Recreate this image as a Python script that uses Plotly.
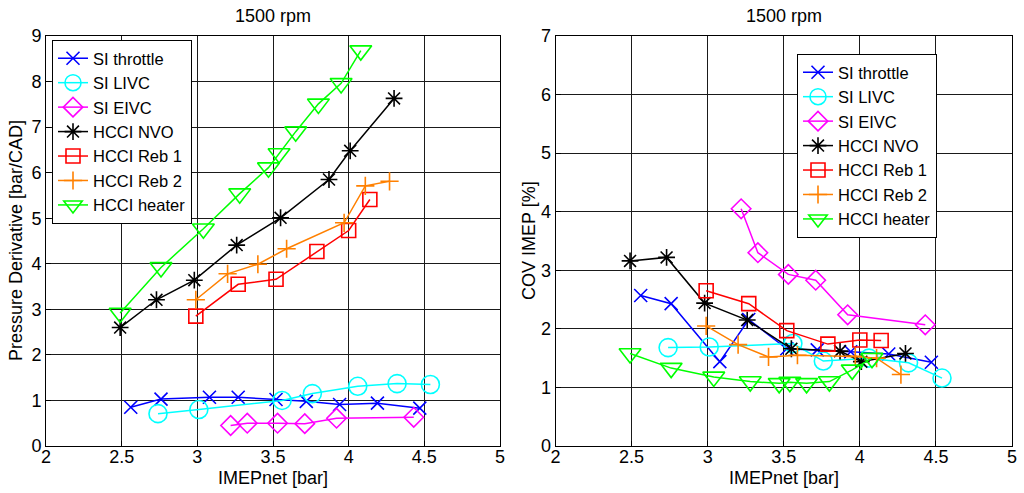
import plotly.graph_objects as go

# ---------------- data ----------------
names = ["SI throttle", "SI LIVC", "SI EIVC", "HCCI NVO", "HCCI Reb 1", "HCCI Reb 2", "HCCI heater"]

# IMEPnet [bar]
x_throttle = [2.56, 2.76, 3.08, 3.27, 3.52, 3.72, 3.94, 4.19, 4.47]
x_livc = [2.74, 3.01, 3.56, 3.76, 4.06, 4.32, 4.54]
x_eivc = [3.22, 3.33, 3.53, 3.71, 3.92, 4.43]
x_nvo = [2.49, 2.73, 2.98, 3.26, 3.55, 3.87, 4.01, 4.30]
x_reb1 = [2.99, 3.27, 3.52, 3.79, 4.00, 4.14]
x_reb2 = [2.99, 3.20, 3.40, 3.59, 3.97, 4.11, 4.27]
x_heater = [2.49, 2.76, 3.04, 3.28, 3.47, 3.54, 3.65, 3.80, 3.95, 4.08]

# Pressure derivative [bar/CAD]
dp_throttle = [0.85, 1.03, 1.07, 1.07, 1.02, 0.98, 0.91, 0.94, 0.83]
dp_livc = [0.71, 0.80, 1.00, 1.15, 1.31, 1.37, 1.35]
dp_eivc = [0.45, 0.50, 0.50, 0.49, 0.61, 0.63]
dp_nvo = [2.60, 3.21, 3.64, 4.41, 5.01, 5.85, 6.48, 7.63]
dp_reb1 = [2.85, 3.55, 3.66, 4.27, 4.73, 5.41]
dp_reb2 = [3.21, 3.78, 3.99, 4.33, 4.90, 5.71, 5.81]
dp_heater = [2.92, 3.92, 4.77, 5.54, 6.11, 6.42, 6.90, 7.51, 7.96, 8.68]

# COV IMEP [%]
cov_throttle = [2.57, 2.43, 1.44, 2.16, 1.66, 1.64, 1.61, 1.57, 1.43]
cov_livc = [1.68, 1.69, 1.75, 1.45, 1.50, 1.42, 1.16]
cov_eivc = [4.05, 3.30, 2.93, 2.83, 2.24, 2.07]
cov_nvo = [3.16, 3.22, 2.44, 2.15, 1.66, 1.62, 1.44, 1.58]
cov_reb1 = [2.65, 2.43, 1.97, 1.74, 1.81, 1.80]
cov_reb2 = [2.05, 1.73, 1.52, 1.55, 1.53, 1.50, 1.22]
cov_heater = [1.58, 1.33, 1.18, 1.10, 1.07, 1.09, 1.07, 1.10, 1.30, 1.50]

x_ticks = [2, 2.5, 3, 3.5, 4, 4.5, 5]
x_ticklabels = ["2", "2.5", "3", "3.5", "4", "4.5", "5"]
title_text = "1500 rpm"

# ---------------- styles ----------------
colors = ["#0000ff", "#00ffff", "#ff00ff", "#000000", "#ff0000", "#ff8000", "#00ff00"]
symbols = ["x-thin-open", "circle-open", "diamond-open", "asterisk-open",
           "square-open", "cross-thin-open", "triangle-down-open"]
sizes = [13, 18, 15, 14, 14, 13, 19]

xs = [x_throttle, x_livc, x_eivc, x_nvo, x_reb1, x_reb2, x_heater]
left_ys = [dp_throttle, dp_livc, dp_eivc, dp_nvo, dp_reb1, dp_reb2, dp_heater]
right_ys = [cov_throttle, cov_livc, cov_eivc, cov_nvo, cov_reb1, cov_reb2, cov_heater]

FONT = "Liberation Sans, Arial, sans-serif"
FS = 18

fig = go.Figure()
for i in range(7):
    for side, ys in (("left", left_ys), ("right", right_ys)):
        fig.add_trace(go.Scatter(
            x=xs[i], y=ys[i], name=names[i], mode="lines+markers",
            line=dict(color=colors[i], width=1.5),
            marker=dict(symbol=symbols[i], size=sizes[i], color=colors[i],
                        line=dict(color=colors[i], width=1.6)),
            xaxis="x" if side == "left" else "x2",
            yaxis="y" if side == "left" else "y2",
            legend="legend" if side == "left" else "legend2",
        ))

W, H = 1024, 493
L1, R1 = 46 / W, 500 / W
L2, R2 = 555.5 / W, 1012 / W
B, T = (H - 446) / H, (H - 36) / H

axis_common = dict(
    showline=True, mirror=True, linecolor="black", linewidth=1,
    showgrid=True, gridcolor="#1a1a1a", gridwidth=1,
    ticks="inside", ticklen=5, tickcolor="black", automargin=False,
    zeroline=False, tickfont=dict(family=FONT, size=FS, color="black"),
)

legend_common = dict(xanchor="left", yanchor="top", bgcolor="white",
                     bordercolor="black", borderwidth=1, tracegroupgap=0,
                     font=dict(family=FONT, size=16.5, color="black"))

fig.update_layout(
    width=W, height=H, margin=dict(l=0, r=0, t=0, b=0, autoexpand=False),
    paper_bgcolor="white", plot_bgcolor="white",
    font=dict(family=FONT, color="black"),
    xaxis=dict(domain=[L1, R1], range=[2, 5], tickvals=x_ticks, ticktext=x_ticklabels,
               anchor="y", ticklabelstandoff=-6, **axis_common),
    yaxis=dict(domain=[B, T], range=[0, 9], dtick=1, anchor="x", **axis_common),
    xaxis2=dict(domain=[L2, R2], range=[2, 5], tickvals=x_ticks, ticktext=x_ticklabels,
                anchor="y2", ticklabelstandoff=-6, **axis_common),
    yaxis2=dict(domain=[B, T], range=[0, 7], dtick=1, anchor="x2", **axis_common),
    legend=dict(x=52 / W, y=(H - 40) / H, **legend_common),
    legend2=dict(x=797 / W, y=(H - 54) / H, **legend_common),
    showlegend=True,
)

annotations = [
    dict(text=title_text, x=(L1 + R1) / 2, y=(H - 16) / H),
    dict(text=title_text, x=(L2 + R2) / 2, y=(H - 16) / H),
    dict(text="IMEPnet [bar]", x=(L1 + R1) / 2, y=(H - 478) / H),
    dict(text="IMEPnet [bar]", x=(L2 + R2) / 2, y=(H - 478) / H),
    dict(text="Pressure Derivative [bar/CAD]", x=16 / W, y=(B + T) / 2, textangle=-90),
    dict(text="COV IMEP [%]", x=529 / W, y=(B + T) / 2, textangle=-90),
]
for a in annotations:
    fig.add_annotation(xref="paper", yref="paper", showarrow=False,
                       xanchor="center", yanchor="middle",
                       font=dict(family=FONT, size=FS, color="black"), **a)

fig.write_html("out.html")
